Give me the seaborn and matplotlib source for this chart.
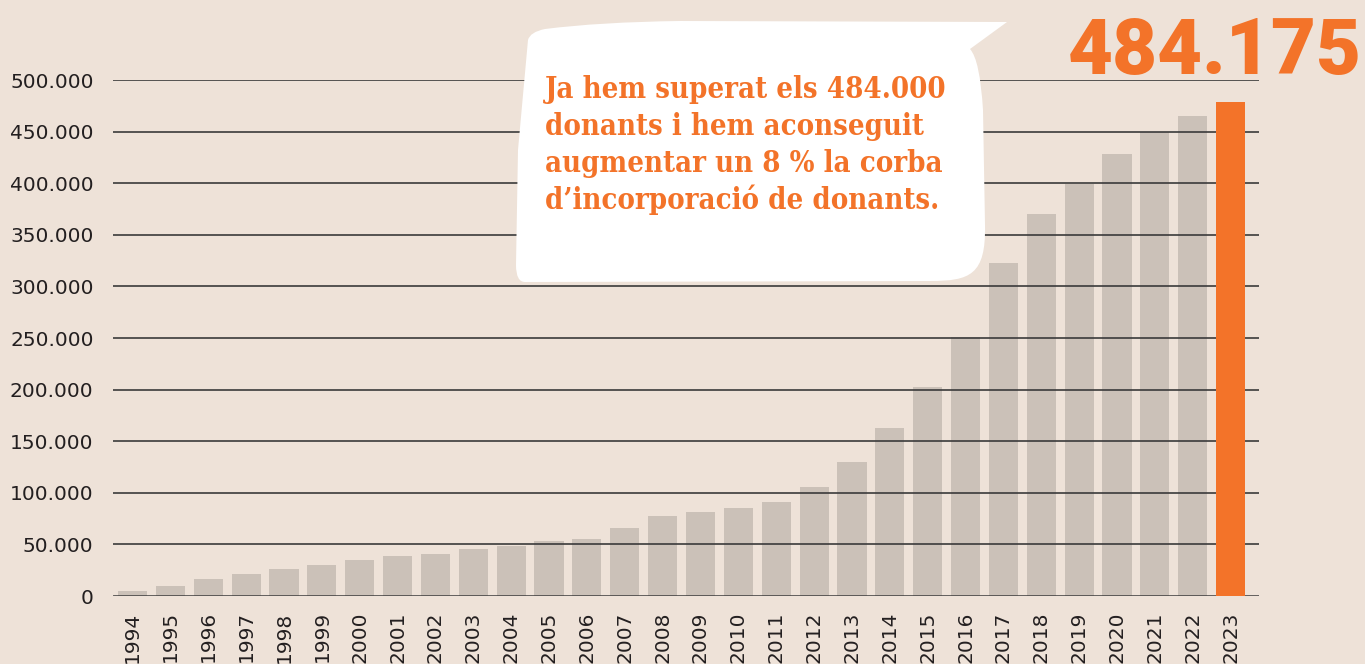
import matplotlib
matplotlib.use("Agg")
import matplotlib.pyplot as plt
from matplotlib.path import Path
from matplotlib.patches import PathPatch
import seaborn as sns
import pandas as pd

# ---- data ----
years = [str(y) for y in range(1994, 2024)]
donors = [5000, 9700, 16500, 21000, 26000, 30000, 35000, 38800, 40700, 45500,
          48400, 53000, 55000, 66000, 77500, 81000, 85000, 91000, 105500, 130000,
          163000, 202500, 251000, 322500, 370000, 399000, 428000, 450000, 465000, 479000]
ytick_values = [0, 50000, 100000, 150000, 200000, 250000, 300000, 350000, 400000, 450000, 500000]
ytick_labels = ["0", "50.000", "100.000", "150.000", "200.000", "250.000",
                "300.000", "350.000", "400.000", "450.000", "500.000"]
headline = "484.175"
bubble_lines = ["Ja hem superat els 484.000",
                "donants i hem aconseguit",
                "augmentar un 8 % la corba",
                "d\u2019incorporació de donants."]

BG = "#EEE2D8"
GREY = "#CBC1B8"
ORANGE = "#F37329"
DARK = "#231F20"

W, H = 1365, 664
sns.set_theme(style="white")
plt.rcParams["font.family"] = ["DejaVu Sans"]

fig = plt.figure(figsize=(W / 100, H / 100), dpi=100, facecolor=BG)
ax = fig.add_axes([113 / W, 1 - 596 / H, (1259 - 113) / W, (596 - 80) / H])
ax.set_facecolor(BG)

df = pd.DataFrame({"year": years, "donors": donors})
palette = {y: GREY for y in years}
palette[years[-1]] = ORANGE
sns.barplot(data=df, x="year", y="donors", hue="year", palette=palette,
            legend=False, width=0.77, saturation=1, linewidth=0,
            edgecolor="none", ax=ax, zorder=1)
orange_rgb = matplotlib.colors.to_rgb(ORANGE)
for p in ax.patches:
    fc = p.get_facecolor()
    if abs(fc[0] - orange_rgb[0]) < 0.01 and abs(fc[1] - orange_rgb[1]) < 0.01:
        p.set_zorder(3)
    else:
        p.set_zorder(1)

for v in ytick_values:
    ax.axhline(v, color="#3a3a3a", lw=1.8 if v == 0 else 1.2, zorder=2)

ax.set_xlim(-0.515, 29.75)
ax.set_ylim(0, 500000)
ax.set_yticks(ytick_values)
ax.set_yticklabels(ytick_labels)
ax.tick_params(axis="y", length=0, pad=14, labelsize=14.5, labelcolor=DARK)
ax.tick_params(axis="x", length=0, pad=11, labelsize=14.5, labelcolor=DARK, rotation=90)
ax.set_xlabel("")
ax.set_ylabel("")
for s in ax.spines.values():
    s.set_visible(False)


def fx(px):
    return px / W


def fy(py):
    return 1 - py / H


# speech bubble
pts = [
    ((528, 40), Path.MOVETO),
    ((530, 32), Path.CURVE3), ((545, 29), Path.CURVE3),
    ((600, 22), Path.CURVE3), ((680, 21), Path.CURVE3),
    ((1007, 22), Path.LINETO),
    ((970, 49), Path.LINETO),
    ((980, 60), Path.CURVE3), ((983, 110), Path.CURVE3),
    ((985, 225), Path.LINETO),
    ((986, 275), Path.CURVE4), ((970, 281), Path.CURVE4), ((930, 281), Path.CURVE4),
    ((525, 282), Path.LINETO),
    ((516, 282), Path.CURVE3), ((516, 265), Path.CURVE3),
    ((518, 150), Path.LINETO),
    ((528, 40), Path.LINETO),
    ((528, 40), Path.CLOSEPOLY),
]
verts = [(fx(x), fy(y)) for (x, y), _ in pts]
codes = [c for _, c in pts]
bubble = PathPatch(Path(verts, codes), facecolor="white", edgecolor="none",
                   transform=fig.transFigure, zorder=10)
fig.patches.append(bubble)

for i, line in enumerate(bubble_lines):
    fig.text(fx(545), fy(98 + 37 * i), line, ha="left", va="baseline",
             color=ORANGE, fontsize=21, fontweight="bold",
             family=["DejaVu Serif"], fontstretch="condensed", zorder=11)

fig.text(fx(1362), fy(74), headline, ha="right", va="baseline", color=ORANGE,
         fontsize=56, fontweight="black", family=["Roboto", "DejaVu Sans"], zorder=11)

fig.savefig("out.png", dpi=100, facecolor=BG)
